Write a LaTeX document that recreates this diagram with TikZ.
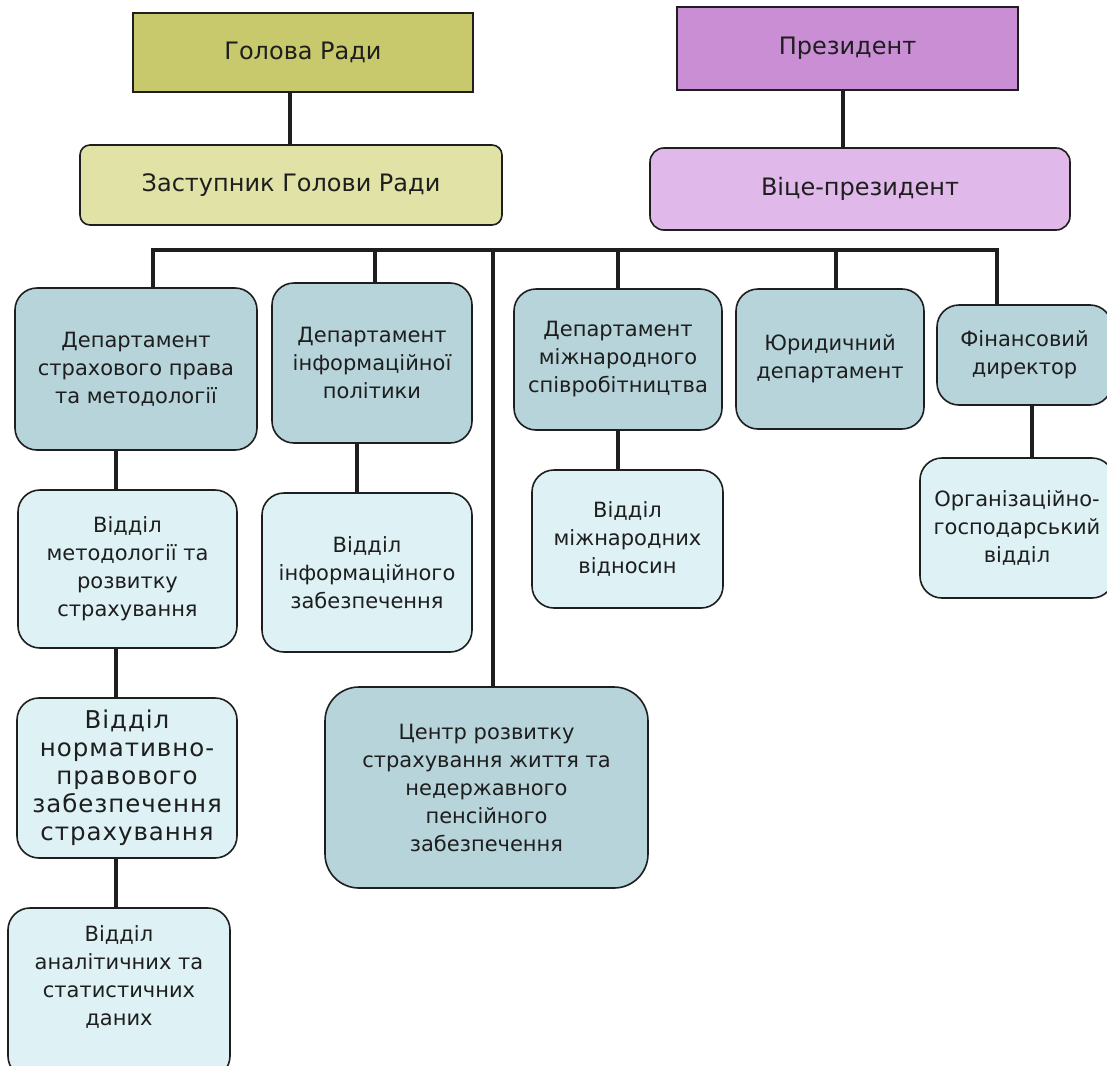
\documentclass[tikz,border=0pt]{standalone}
\usepackage{fontspec}
\setmainfont{DejaVu Sans}
\definecolor{olivec}{RGB}{199,201,108}
\definecolor{olivel}{RGB}{224,226,166}
\definecolor{purpc}{RGB}{201,142,212}
\definecolor{purpl}{RGB}{224,184,234}
\definecolor{deptc}{RGB}{182,212,218}
\definecolor{subc}{RGB}{222,242,246}
\definecolor{inkc}{RGB}{30,30,30}
\newcommand\bx[7]{\node[#2, minimum width={#5-#3}, minimum height={#6-#4}] (#1) at ({(#3+#5)/2},{(#4+#6)/2}) {#7};}
\begin{document}
\begin{tikzpicture}[x=1pt,y=-1pt,
  box/.style={draw=inkc, line width=1.6pt, align=center, inner sep=0pt, text=inkc,
    font=\fontsize{21}{28}\selectfont},
  headbox/.style={box, line width=2.6pt, font=\fontsize{24}{28}\selectfont},
  deputy/.style={box, font=\fontsize{24}{28}\selectfont},
  dept/.style={box, fill=deptc, rounded corners=22pt},
  sub/.style={box, fill=subc, rounded corners=22pt},
  widesub/.style={sub, font=\fontsize{24.5}{28}\selectfont\addfontfeature{LetterSpace=4}},
  txt/.style={align=center, inner sep=0pt, text=inkc, font=\fontsize{21}{28}\selectfont},
  conn/.style={line width=4pt, draw=inkc}]
\useasboundingbox (0,0) rectangle (1107,1065);
\clip (0,0) rectangle (1107,1065);
\fill[white] (0,0) rectangle (1107,1065);

% top level
\bx{golova}{headbox, fill=olivec}{133}{13}{473}{92}{Голова Ради}
\bx{zast}{deputy, fill=olivel, rounded corners=10pt}{80}{145}{502}{225}{Заступник Голови Ради}
\bx{pres}{headbox, fill=purpc}{677}{7}{1018}{90}{Президент}
\bx{vice}{deputy, fill=purpl, rounded corners=14pt}{650}{148}{1070}{230}{Віце-президент}

% departments
\bx{d1}{dept}{15}{288}{257}{450}{Департамент\\страхового права\\та методології}
\bx{d2}{dept}{272}{283}{472}{443}{Департамент\\інформаційної\\політики}
\bx{d3}{dept}{514}{289}{722}{430}{Департамент\\міжнародного\\співробітництва}
\bx{jur}{dept}{736}{289}{924}{429}{Юридичний\\департамент}
\bx{fin}{dept}{937}{305}{1112}{405}{Фінансовий\\директор}
\bx{ctr}{dept, rounded corners=34pt}{325}{687}{648}{888}{Центр розвитку\\страхування життя та\\недержавного\\пенсійного\\забезпечення}

% sub-units
\bx{v1}{sub}{18}{490}{237}{648}{Відділ\\методології та\\розвитку\\страхування}
\bx{v2}{sub}{262}{493}{472}{652}{Відділ\\інформаційного\\забезпечення}
\bx{v3}{sub}{532}{470}{723}{608}{Відділ\\міжнародних\\відносин}
\bx{org}{sub}{920}{458}{1114}{598}{Організаційно-\\господарський\\відділ}
\bx{v4}{widesub}{17}{698}{237}{858}{Відділ\\нормативно-\\правового\\забезпечення\\страхування}
\bx{v5}{sub}{8}{908}{230}{1078}{}
\node[txt] (v5t) at (119,977) {Відділ\\аналітичних та\\статистичних\\даних};

% connector x positions
\coordinate (b1) at (153,250);
\coordinate (b2) at (375,250);
\coordinate (b3) at (493,250);
\coordinate (b4) at (618,250);
\coordinate (b5) at (836,250);
\coordinate (b6) at (997,250);
\coordinate (cl) at (116,0);
\coordinate (c2) at (357,0);
\coordinate (cf) at (1032,0);
\coordinate (cg) at (290,0);
\coordinate (cp) at (843,0);

% connectors
\draw[conn] (golova.south -| cg) -- (zast.north -| cg);
\draw[conn] (pres.south -| cp) -- (vice.north -| cp);
\draw[conn, line join=miter] (b1 |- d1.north) -- (b1) -- (b6) -- (b6 |- fin.north);
\draw[conn] (b2) -- (b2 |- d2.north);
\draw[conn] (b3) -- (b3 |- ctr.north);
\draw[conn] (b4) -- (b4 |- d3.north);
\draw[conn] (b5) -- (b5 |- jur.north);
\draw[conn] (d1.south -| cl) -- (v1.north -| cl);
\draw[conn] (v1.south -| cl) -- (v4.north -| cl);
\draw[conn] (v4.south -| cl) -- (v5.north -| cl);
\draw[conn] (d2.south -| c2) -- (v2.north -| c2);
\draw[conn] (d3.south) -- (v3.north -| d3.south);
\draw[conn] (fin.south -| cf) -- (org.north -| cf);
\end{tikzpicture}
\end{document}
